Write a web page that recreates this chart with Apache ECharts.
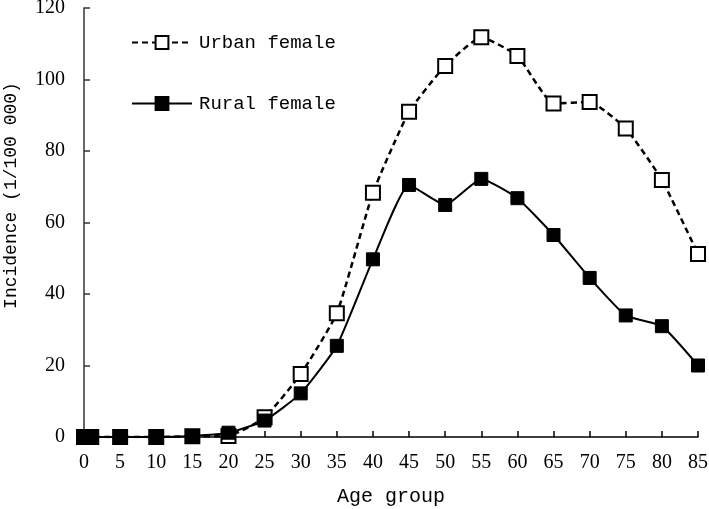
<!DOCTYPE html>
<html><head><meta charset="utf-8">
<script src="https://cdn.jsdelivr.net/npm/echarts@6/dist/echarts.min.js"></script>
<style>html,body{margin:0;padding:0;background:#fff}#c{width:709px;height:509px}</style>
</head><body><div id="c"></div>
<script>
const ages = [0, 1, 5, 10, 15, 20, 25, 30, 35, 40, 45, 50, 55, 60, 65, 70, 75, 80, 85];
const urban = [0, 0, 0, 0, 0.2, 0.3, 5.5, 17.6, 34.6, 68.3, 91.0, 103.8, 111.8, 106.6, 93.3, 93.7, 86.3, 71.9, 51.2];
const rural = [0, 0, 0, 0, 0.3, 1.2, 4.6, 12.2, 25.5, 49.7, 70.5, 64.9, 72.2, 66.8, 56.5, 44.5, 34.0, 31.0, 20.0];
const yTicks = [0, 20, 40, 60, 80, 100, 120];
const xTickStep = 5;

const monoFont = '"Liberation Mono", "Noto Sans CJK SC", monospace';
const numFont = '"Liberation Serif", serif';

const chart = echarts.init(document.getElementById('c'));
chart.setOption({
  animation: false,
  backgroundColor: '#fff',
  grid: { left: 84, right: 11, top: 8, bottom: 72, containLabel: false, outerBoundsMode: 'none' },
  legend: {
    orient: 'vertical', left: 131, top: 33, padding: 0, itemWidth: 60, itemHeight: 16, itemGap: 42,
    textStyle: { fontFamily: monoFont, fontSize: 19, color: '#000', padding: [0, 0, 0, 2] },
    data: ['Urban female', 'Rural female']
  },
  xAxis: {
    type: 'value', min: 0, max: 85, interval: xTickStep,
    name: 'Age group', nameLocation: 'middle', nameGap: 50,
    nameTextStyle: { fontFamily: monoFont, fontSize: 20, color: '#000' },
    axisLine: { lineStyle: { color: '#000', width: 1.5 } },
    axisTick: { inside: true, length: 6, lineStyle: { color: '#000', width: 1.5 } },
    axisLabel: { fontFamily: numFont, fontSize: 20, color: '#000', margin: 16 },
    splitLine: { show: false }
  },
  yAxis: {
    type: 'value', min: yTicks[0], max: yTicks[yTicks.length - 1], interval: 20,
    name: 'Incidence (1/100 000)', nameLocation: 'middle', nameGap: 64, nameMoveOverlap: false,
    nameTextStyle: { fontFamily: monoFont, fontSize: 18, color: '#000', padding: [0, 0, 0, 54] },
    axisLine: { show: true, lineStyle: { color: '#333', width: 1.5 } },
    axisTick: { show: true, inside: true, length: 6, lineStyle: { color: '#333', width: 1.5 } },
    axisLabel: { fontFamily: numFont, fontSize: 20, color: '#000', margin: 19 },
    splitLine: { show: false }
  },
  series: [
    {
      name: 'Urban female', type: 'line', smooth: 0.15,
      data: ages.map((a, i) => [a, urban[i]]),
      symbol: 'rect', symbolSize: 14,
      itemStyle: { color: '#fff', borderColor: '#000', borderWidth: 2 },
      lineStyle: { color: '#000', width: 2.5, type: [6, 4] },
      z: 2
    },
    {
      name: 'Rural female', type: 'line', smooth: 0.15,
      data: ages.map((a, i) => [a, rural[i]]),
      symbol: 'rect', symbolSize: 13,
      itemStyle: { color: '#000', borderColor: '#000', borderWidth: 1 },
      lineStyle: { color: '#000', width: 2 },
      z: 3
    }
  ]
});
</script></body></html>
